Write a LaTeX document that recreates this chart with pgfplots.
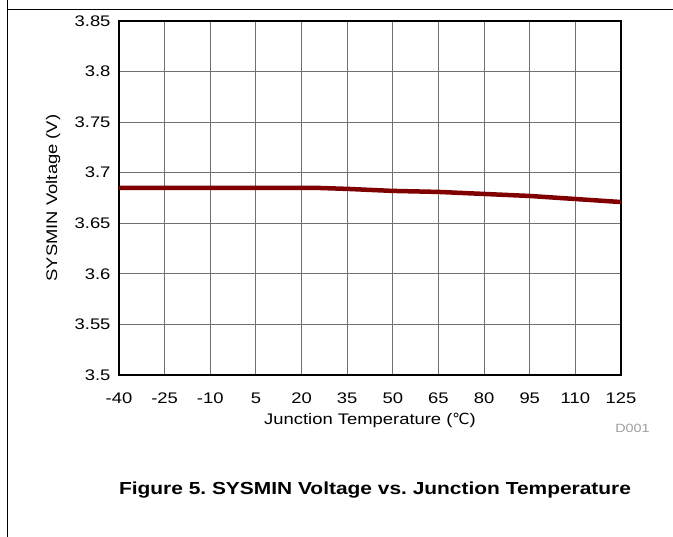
\documentclass[border=0pt]{standalone}
\usepackage{fontspec}
\setmainfont{Liberation Sans}[FakeStretch=1.2]
\newfontfamily\symfont{DejaVu Sans}
\usepackage{pgfplots}
\pgfplotsset{compat=1.18}
\definecolor{curvered}{HTML}{800000}
\definecolor{gridgray}{HTML}{707070}
\frenchspacing

\begin{document}
\begin{tikzpicture}[x=1bp,y=1bp]
\useasboundingbox (0,0) rectangle (673,537);
% page frame of the datasheet
\draw[line width=1bp] (7.5,0) -- (7.5,537);
\draw[line width=1bp] (7.5,527) -- (673,527);
\begin{axis}[
    at={(119bp,162bp)},
    anchor=south west,
    scale only axis,
    width=502bp,
    height=354bp,
    xmin=-40, xmax=125,
    ymin=3.5, ymax=3.85,
    xtick={-40,-25,...,125},
    ytick={3.5,3.55,...,3.86},
    yticklabels={3.5,3.55,3.6,3.65,3.7,3.75,3.8,3.85},
    major tick length=0pt,
    grid=major,
    grid style={gridgray, line width=1bp},
    axis line style={line width=2.5bp},
    tick label style={font=\fontsize{15.4}{17}\selectfont},
    /pgf/number format/assume math mode=true,
    xticklabel style={yshift=-14bp},
    yticklabel style={xshift=-5bp},
    xlabel={Junction Temperature ({\symfont ℃})},
    ylabel={SYSMIN Voltage (V)},
    label style={font=\fontsize{15.4}{17}\selectfont},
    xlabel style={at={(axis description cs:0.5,-0.127)}, anchor=center},
    ylabel style={at={(axis description cs:-0.131,0.5)}, anchor=center},
]
\addplot[curvered, line width=4.5bp] coordinates {
    (-40,3.685) (-25,3.685) (-10,3.685) (5,3.685) (20,3.685) (25,3.685)
    (35,3.684) (50,3.682) (65,3.681) (80,3.679) (95,3.677) (110,3.674) (125,3.671)
};
\end{axis}
\node[text=black!38, font=\fontsize{12}{14}\selectfont] at (632.5,109) {D001};
\node[anchor=base, font=\bfseries\fontsize{17.5}{20}\selectfont] at (375,42) {Figure 5. SYSMIN Voltage vs. Junction Temperature};
\end{tikzpicture}
\end{document}
